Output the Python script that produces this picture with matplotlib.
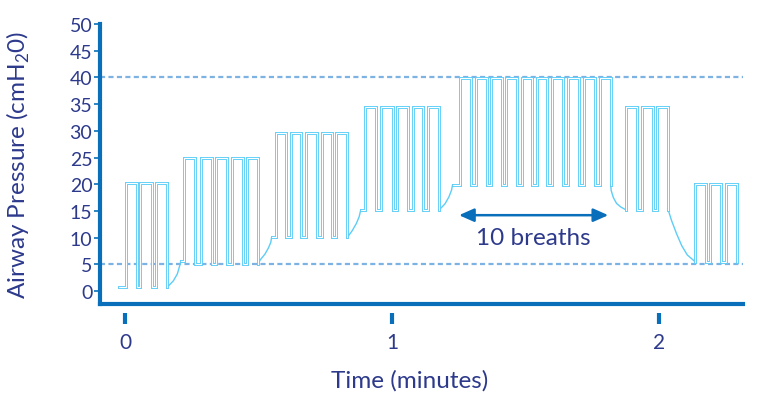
import matplotlib
matplotlib.use("Agg")
import matplotlib.pyplot as plt

plt.rcParams['font.family'] = ['Lato', 'DejaVu Sans']
plt.rcParams['mathtext.fontset'] = 'custom'
plt.rcParams['mathtext.rm'] = 'Lato'

# ---------------- data (time in minutes, pressure in cmH2O) ----------------
start_time = -0.022
peep = [0.7, 5.05, 10.05, 15.2, 19.9, 15.1, 5.45]
pip = [20.3, 24.9, 29.6, 34.5, 39.9, 34.5, 20.0]
insp_start = [
    [0.003, 0.056, 0.115],
    [0.222, 0.284, 0.340, 0.401, 0.458],
    [0.564, 0.621, 0.677, 0.737, 0.791],
    [0.899, 0.958, 1.020, 1.078, 1.134],
    [1.255, 1.315, 1.371, 1.427, 1.486, 1.542, 1.598, 1.660, 1.719, 1.779],
    [1.876, 1.935, 1.991],
    [2.135, 2.191, 2.250],
]
insp_end = [
    [0.045, 0.100, 0.158],
    [0.262, 0.325, 0.383, 0.441, 0.499],
    [0.603, 0.658, 0.718, 0.776, 0.833],
    [0.939, 1.005, 1.061, 1.117, 1.177],
    [1.296, 1.355, 1.411, 1.469, 1.525, 1.582, 1.642, 1.700, 1.760, 1.819],
    [1.919, 1.976, 2.035],
    [2.175, 2.231, 2.291],
]
# PEEP transitions between stages (read points)
trans_t = [
    [0.158, 0.181, 0.196, 0.203, 0.209],
    [0.499, 0.506, 0.524, 0.537, 0.546, 0.549],
    [0.833, 0.851, 0.866, 0.877, 0.883],
    [1.177, 1.198, 1.213, 1.223, 1.227],
    [1.819, 1.821, 1.829, 1.841, 1.858, 1.876],
    [2.035, 2.047, 2.066, 2.085, 2.106, 2.135],
]
trans_p = [
    [0.7, 1.9, 3.2, 4.4, 5.6],
    [5.05, 5.8, 6.9, 8.05, 9.1, 10.05],
    [10.05, 11.3, 12.6, 13.9, 15.2],
    [15.2, 16.3, 17.6, 18.9, 19.9],
    [19.9, 18.8, 17.5, 16.4, 15.7, 15.2],
    [15.1, 13.2, 10.7, 8.5, 6.75, 5.5],
]
ref_levels = [40, 5]
y_ticks = list(range(0, 51, 5))
x_ticks = [0, 1, 2]
arrow_span = (1.251, 1.81)
arrow_level = 14.2
annotation = "10 breaths"

# ---------------- styling ----------------
WAVE = "#5ccdf7"
DASH = "#7db3e2"
AXIS = "#0a6fba"
TEXT = "#2d3a8c"

fig = plt.figure(figsize=(7.68, 4.06), dpi=100)
ax = fig.add_axes([100 / 768, 1 - 305 / 406, 643 / 768, 280 / 406])
ax.set_xlim(-0.0936, 2.3146)
ax.set_ylim(-2.43, 50)

for lvl in ref_levels:
    ax.axhline(lvl, color=DASH, lw=1.6, dashes=(2.3, 1.5), zorder=1)

# waveform
for i in range(len(peep)):
    if i == 0:
        ts, ps = [start_time], [peep[0]]
    else:
        ts, ps = [trans_t[i - 1][-1]], [trans_p[i - 1][-1]]
    for s, e in zip(insp_start[i], insp_end[i]):
        ts += [s, s, e, e]
        ps += [ps[-1], pip[i], pip[i], peep[i]]
    ax.plot(ts, ps, color=WAVE, lw=2.1, solid_joinstyle='miter', zorder=3)
    ax.plot(ts, ps, color='white', lw=0.8, solid_joinstyle='miter', zorder=4)
for ct, cp in zip(trans_t, trans_p):
    ax.plot(ct, cp, color=WAVE, lw=1.0, zorder=3)

# arrow + annotation
ax.annotate('', xy=(arrow_span[1], arrow_level), xytext=(arrow_span[0], arrow_level),
            arrowprops=dict(arrowstyle='<|-|>,head_length=0.45,head_width=0.2',
                            color=AXIS, lw=1.8, shrinkA=0, shrinkB=0,
                            mutation_scale=20), zorder=5)
ax.text(sum(arrow_span) / 2, 10.0, annotation, ha='center', va='center',
        fontsize=17.5, color=TEXT, zorder=5)

# axes styling
for s in ['top', 'right']:
    ax.spines[s].set_visible(False)
for s in ['left', 'bottom']:
    ax.spines[s].set_color(AXIS)
    ax.spines[s].set_linewidth(3)
    ax.spines[s].set_capstyle('projecting')
ax.set_yticks(y_ticks)
ax.tick_params(axis='y', length=4, width=1.2, color=AXIS, labelcolor=TEXT,
               labelsize=14, pad=1.5)
ax.set_xticks([])
ax.set_ylabel('Airway Pressure (cmH$_2$0)', fontsize=17.5, color=TEXT)
ax.yaxis.set_label_coords(-0.106, 0.5)

sec = ax.secondary_xaxis(-0.032)
for s in sec.spines.values():
    s.set_visible(False)
sec.set_xticks(x_ticks)
sec.tick_params(axis='x', length=8, width=3, color=AXIS, labelcolor=TEXT,
                labelsize=15, pad=6)
sec.set_xlabel('Time (minutes)', fontsize=17.5, color=TEXT)
sec.xaxis.set_label_coords(0.482, -0.232, transform=ax.transAxes)

fig.savefig('out.png', dpi=100)
